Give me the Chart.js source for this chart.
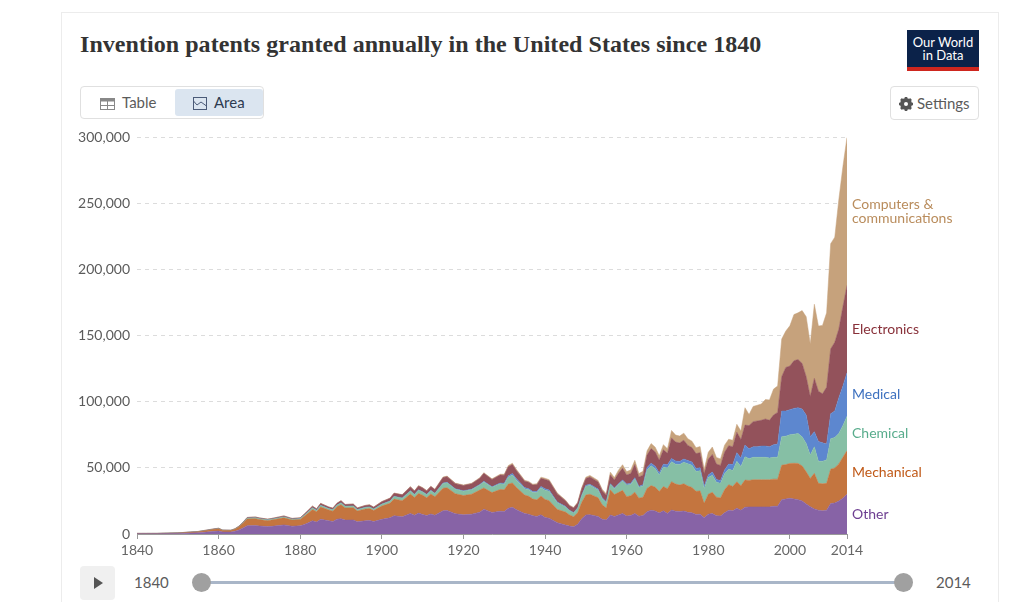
<!DOCTYPE html>
<html>
<head>
<meta charset="utf-8">
<script src="https://cdn.jsdelivr.net/npm/chart.js@4.4.1/dist/chart.umd.min.js"></script>
<style>
  body { margin: 0; background: #fff; font-family: Lato, sans-serif; width: 1032px; height: 602px; overflow: hidden; position: relative; }
  .card { position: absolute; left: 61px; top: 12px; width: 936px; height: 600px; border: 1px solid #ececec; border-bottom: none; }
  h1 { position: absolute; left: 80px; top: 31px; margin: 0; font: bold 24px 'Liberation Serif', serif; color: #333; letter-spacing: 0.05px; }
  .logo { position: absolute; left: 907px; top: 30px; width: 72px; height: 41px; background: #0b2249; color: #fff; font-size: 13px; line-height: 13px; text-align: center; box-sizing: border-box; padding-top: 6px; border-bottom: 4px solid #ce261e; }
  .tabs { position: absolute; left: 80px; top: 86px; width: 184px; height: 33px; border: 1px solid #e0e0e0; border-radius: 4px; box-sizing: border-box; }
  .tab { position: absolute; top: 2px; height: 27px; line-height: 27px; font-size: 15px; color: #5b5b5b; }
  .tab svg { vertical-align: -2px; margin-right: 7px; }
  .tab.on { background: #dbe5f0; color: #2d3b50; border-radius: 3px; }
  .settings { position: absolute; left: 890px; top: 86px; width: 89px; height: 34px; border: 1px solid #e0e0e0; border-radius: 4px; box-sizing: border-box; font-size: 15px; line-height: 32px; color: #5b5b5b; padding-left: 8px; }
  .settings svg { vertical-align: -2px; margin-right: 4px; }
  #wrap { position: absolute; left: 70px; top: 122px; width: 900px; height: 438px; }
  .play { position: absolute; left: 80px; top: 566px; width: 35px; height: 34px; background: #f0f0f0; border-radius: 4px; }
  .play:after { content: ''; position: absolute; left: 14px; top: 11px; border-left: 9px solid #555; border-top: 6px solid transparent; border-bottom: 6px solid transparent; }
  .yr { position: absolute; top: 573px; font-size: 15px; color: #5b5b5b; }
  .track { position: absolute; left: 205px; top: 581px; width: 694px; height: 3px; background: #a9b6c8; }
  .knob { position: absolute; top: 573px; width: 19px; height: 19px; border-radius: 50%; background: #a0a0a0; }
</style>
</head>
<body>
<div class="card"></div>
<h1>Invention patents granted annually in the United States since 1840</h1>
<div class="logo">Our World<br>in Data</div>
<div class="tabs">
  <div class="tab" style="left:19px;"><svg width="15" height="12" viewBox="0 0 15 12"><rect x="0.5" y="0.5" width="14" height="11" fill="none" stroke="#888"/><rect x="0.5" y="0.5" width="14" height="3" fill="#888"/><line x1="7.5" y1="0" x2="7.5" y2="12" stroke="#888"/><line x1="0" y1="7.5" x2="15" y2="7.5" stroke="#888"/></svg>Table</div>
  <div class="tab on" style="left:94px;width:88px;padding-left:18px;box-sizing:border-box;"><svg width="14" height="13" viewBox="0 0 14 13"><rect x="0.5" y="0.5" width="13" height="12" fill="none" stroke="#4a5a78"/><polyline points="0.5,4 4,8 8,5 13.5,9" fill="none" stroke="#4a5a78"/></svg>Area</div>
</div>
<div class="settings"><svg width="14" height="14" viewBox="0 0 14 14"><circle cx="7" cy="7" r="4.5" fill="none" stroke="#555" stroke-width="3"/><g stroke="#555" stroke-width="2.6"><line x1="7" y1="0" x2="7" y2="14"/><line x1="0" y1="7" x2="14" y2="7"/><line x1="2" y1="2" x2="12" y2="12"/><line x1="12" y1="2" x2="2" y2="12"/></g><circle cx="7" cy="7" r="2" fill="#fff"/></svg>Settings</div>
<div id="wrap"><canvas id="chart" width="900" height="438"></canvas></div>
<div class="play"></div>
<div class="yr" style="left:134px;">1840</div>
<div class="track"></div>
<div class="knob" style="left:192px;"></div>
<div class="knob" style="left:894px;"></div>
<div class="yr" style="left:936px;">2014</div>

<script>
// thousands of patents per year
const years = [1840,1845,1850,1855,1859,1860,1861,1863,1864,1865,1866,1867,1869,1870,1872,1873,1876,1878,1880,1881,
  1882,1883,1884,1885,1887,1888,1889,1890,1891,1893,1894,1896,1897,1898,1900,1902,1903,1905,1907,1908,
  1909,1910,1911,1912,1913,1915,1916,1918,1920,1922,1924,1925,1927,1929,1930,1931,1932,1933,1935,1936,
  1937,1938,1939,1940,1941,1943,1945,1946,1947,1948,1949,1950,1951,1953,1954,1955,1956,1957,1958,1959,
  1960,1961,1962,1963,1964,1965,1966,1967,1968,1969,1970,1971,1972,1973,1974,1975,1976,1977,1978,1979,
  1980,1981,1982,1983,1984,1985,1986,1987,1988,1989,1990,1991,1992,1993,1994,1995,1996,1997,1998,1999,
  2000,2001,2002,2003,2004,2005,2006,2007,2008,2009,2010,2011,2012,2013,2014];

const other = [0.25,0.25,0.45,1.0,2.0,2.2,1.6,1.5,2.1,3.1,4.6,6.3,6.4,6.1,5.6,5.8,6.9,5.9,6.2,7.2,
  8.5,10.0,9.0,11.2,10.0,9.5,11.2,11.6,10.5,10.6,9.3,10.0,10.2,9.4,11.1,12.2,13.8,13.0,15.6,14.2,
  15.8,14.8,13.9,15.2,14.2,17.6,17.8,15.4,14.5,15.0,16.5,18.8,16.3,17.2,17.0,19.5,20.2,18.4,15.5,15.0,
  13.8,13.3,14.5,12.5,12.0,8.6,6.8,6.0,5.5,7.3,11.5,14.4,14.6,13.3,11.1,10.6,14.4,13.3,14.4,15.6,
  13.6,14.0,15.6,13.5,14.0,16.9,18.0,17.4,15.8,17.5,15.6,18.1,17.3,17.0,17.4,16.4,16.0,14.8,15.0,12.3,
  15.0,15.5,13.8,13.6,16.0,18.0,17.5,19.5,18.0,20.2,20.5,20.5,20.5,20.5,20.5,20.5,21.0,21.0,26.0,26.5,
  27.0,26.5,26.0,25.0,22.7,20.7,19.0,18.0,17.5,18.0,23.0,23.5,25.0,27.0,30.0];

const mechanical = [0.15,0.17,0.3,0.7,1.5,1.7,1.1,1.1,1.5,2.3,3.6,5.0,5.2,4.8,4.5,4.7,5.3,4.6,4.8,6.2,
  7.4,8.6,7.8,9.2,8.1,7.8,9.4,10.5,9.2,9.3,8.1,8.9,9.0,8.3,10.0,11.0,12.6,12.2,14.6,13.4,
  14.9,14.5,13.5,15.0,14.0,17.0,17.2,15.1,14.6,15.1,16.7,16.0,15.0,16.5,16.4,18.3,18.4,16.7,14.0,13.5,
  12.6,12.6,14.2,13.6,13.2,10.0,9.8,8.4,7.6,8.7,12.5,15.1,15.5,14.1,11.0,9.0,19.0,16.5,17.0,17.4,
  14.6,15.0,16.0,13.6,13.8,17.6,18.6,18.0,16.3,18.4,18.6,21.5,20.5,20.0,20.6,19.9,19.2,17.5,17.6,10.9,
  15.1,16.0,14.0,13.7,17.5,19.3,18.5,20.0,18.5,20.6,20.0,20.5,20.5,20.5,20.5,20.5,20.5,20.5,26.0,26.0,
  26.4,27.0,27.4,26.5,24.3,21.3,26.9,20.3,20.5,20.3,26.0,26.5,28.0,31.0,33.0];

const chemical = [0.02,0.02,0.04,0.07,0.15,0.15,0.1,0.1,0.12,0.2,0.35,0.6,0.6,0.6,0.55,0.6,0.7,0.6,0.6,0.8,
  1.0,1.1,1.0,1.2,1.0,1.0,1.2,1.4,1.2,1.2,1.0,1.2,1.2,1.1,1.4,1.6,1.9,1.9,2.3,2.1,
  2.4,2.4,2.3,2.5,2.4,3.6,3.7,3.3,3.3,3.4,3.8,4.6,4.0,4.3,4.3,5.3,6.0,5.6,4.8,5.0,
  5.0,5.4,6.3,7.0,7.1,5.0,3.8,3.1,2.7,3.3,4.9,6.6,6.8,5.8,4.6,4.2,4.1,4.4,6.0,7.0,
  8.8,8.5,10.0,8.2,8.5,14.0,15.0,14.0,12.5,14.8,15.8,15.1,15.0,15.5,16.2,16.8,16.8,15.0,15.2,11.3,
  12.6,13.0,11.3,11.0,12.0,11.8,12.0,15.5,14.5,17.7,16.5,17.0,17.0,17.0,17.0,16.5,16.5,16.5,21.6,21.5,
  21.6,22.0,22.6,22.0,21.5,17.7,20.1,16.7,17.0,17.7,23.0,23.0,23.0,24.0,26.0];

const medical = [0,0,0,0.01,0.02,0.02,0.01,0.01,0.01,0.02,0.03,0.05,0.05,0.05,0.05,0.05,0.05,0.05,0.05,0.05,
  0.1,0.1,0.1,0.1,0.1,0.1,0.1,0.1,0.1,0.1,0.1,0.1,0.1,0.1,0.1,0.2,0.2,0.2,0.3,0.3,
  0.3,0.3,0.3,0.3,0.3,0.4,0.4,0.4,0.4,0.4,0.5,0.5,0.5,0.6,0.7,0.9,1.1,1.0,0.8,0.8,
  0.8,0.9,1.0,1.1,1.0,0.7,0.5,0.4,0.4,0.5,0.6,0.8,0.8,0.8,0.7,0.6,0.6,0.6,0.7,0.8,
  0.8,0.8,1.0,0.8,0.9,1.8,2.0,1.9,1.7,2.1,2.4,2.5,2.4,2.4,2.5,2.5,2.5,2.3,2.3,1.8,
  2.0,2.4,2.2,2.2,3.0,3.8,4.5,6.5,6.5,8.8,7.5,8.0,8.0,8.5,8.5,8.5,9.5,10.0,19.4,19.0,
  19.0,19.5,19.5,21.0,21.5,13.9,11.4,15.0,14.0,12.0,19.0,20.0,27.0,30.0,33.0];

const electronics = [0.05,0.05,0.08,0.15,0.3,0.3,0.2,0.2,0.25,0.35,0.4,0.55,0.6,0.6,0.55,0.6,0.7,0.6,0.6,0.8,
  1.0,1.2,1.1,1.4,1.2,1.1,1.3,1.5,1.3,1.4,1.2,1.4,1.5,1.4,1.8,2.0,2.3,2.3,2.8,2.5,
  2.9,2.8,2.6,2.9,2.7,4.1,4.3,3.9,3.9,4.1,4.6,6.0,5.4,6.0,6.1,6.9,6.8,6.2,4.8,4.8,
  4.8,5.1,6.1,7.0,6.9,6.0,4.2,3.4,3.5,3.6,4.8,5.1,5.5,5.4,5.3,4.9,6.6,6.0,7.8,8.9,
  6.9,7.4,10.0,7.0,7.3,9.4,11.0,10.8,9.5,10.9,8.6,15.5,14.3,14.0,14.2,11.4,10.9,11.2,11.4,9.4,
  11.9,13.3,11.6,11.4,13.4,13.9,13.5,15.5,14.0,15.1,17.5,19.0,19.5,19.5,20.5,20.0,22.5,24.0,26.0,33.0,
  33.0,36.0,36.5,34.5,29.0,30.4,40.3,38.0,37.0,43.0,49.0,52.0,52.0,60.0,66.0];

const computers = [0.01,0.01,0.01,0.02,0.03,0.03,0.02,0.02,0.02,0.03,0.04,0.05,0.05,0.05,0.05,0.05,0.05,0.05,0.05,0.05,
  0.1,0.1,0.1,0.1,0.1,0.1,0.1,0.2,0.1,0.1,0.1,0.1,0.1,0.1,0.2,0.2,0.2,0.2,0.3,0.3,
  0.3,0.3,0.3,0.3,0.3,0.4,0.4,0.4,0.4,0.4,0.5,0.5,0.5,0.6,0.7,0.9,1.0,0.9,0.7,0.7,
  0.7,0.8,0.9,1.0,0.9,0.7,0.6,0.5,0.4,0.6,0.8,1.0,1.1,1.1,1.1,1.1,2.1,1.9,2.4,2.7,
  2.5,2.7,3.1,2.6,2.9,3.2,3.8,3.6,3.3,3.9,3.4,5.6,5.3,5.2,5.4,5.0,4.8,4.5,4.6,3.2,
  5.2,5.6,5.0,4.9,5.3,4.9,4.9,6.0,6.4,13.1,8.4,11.5,11.9,12.3,14.7,15.4,19.6,20.0,28.5,27.5,
  30.5,35.0,35.3,40.0,45.3,39.8,56.1,49.3,51.8,56.3,79.6,79.5,98.0,106.0,112.0];

const seriesNames = [['Other'], ['Mechanical'], ['Chemical'], ['Medical'], ['Electronics'], ['Computers &', 'communications']];
const seriesValues = [other, mechanical, chemical, medical, electronics, computers];
const areaColors = ['#8763a6', '#c4753f', '#86bfa5', '#5d87cf', '#93525b', '#c6a27c'];
const labelColors = ['#6d3e91', '#c05917', '#58ac8c', '#3c70bf', '#883039', '#b98c5c'];
const tickYears = [1840, 1860, 1880, 1900, 1920, 1940, 1960, 1980, 2000, 2014];

const datasets = seriesValues.map((vals, i) => ({
  label: seriesNames[i].join(' '),
  data: years.map((yr, j) => ({ x: yr, y: vals[j] * 1000 })),
  backgroundColor: areaColors[i],
  borderColor: areaColors[i],
  borderWidth: 0.5,
  pointRadius: 0,
  tension: 0,
  fill: i === 0 ? 'origin' : '-1'
}));

// labels at the right end of each band
const endLabels = {
  id: 'endLabels',
  afterDatasetsDraw(chart) {
    const { ctx, chartArea, scales: { y } } = chart;
    const last = years.length - 1;
    let base = 0;
    ctx.save();
    ctx.font = '14px Lato';
    ctx.textBaseline = 'middle';
    seriesValues.forEach((vals, i) => {
      const top = base + vals[last] * 1000;
      const mid = y.getPixelForValue((base + top) / 2);
      const lines = seriesNames[i];
      ctx.fillStyle = labelColors[i];
      lines.forEach((t, k) => {
        ctx.fillText(t, chartArea.right + 5, mid + (k - (lines.length - 1) / 2) * 14);
      });
      base = top;
    });
    ctx.restore();
  }
};

new Chart(document.getElementById('chart'), {
  type: 'line',
  data: { datasets },
  plugins: [endLabels],
  options: {
    responsive: false,
    animation: false,
    layout: { padding: { top: 9, right: 123, bottom: 0, left: 0 } },
    plugins: { legend: { display: false }, tooltip: { enabled: false } },
    scales: {
      x: {
        type: 'linear',
        min: 1840,
        max: 2014,
        afterBuildTicks: (s) => { s.ticks = tickYears.map(v => ({ value: v })); },
        afterFit: (s) => { s.height = 26; },
        grid: { drawOnChartArea: false, drawTicks: true, tickLength: 5, color: '#999' },
        border: { color: '#999' },
        ticks: { autoSkip: false, maxRotation: 0, padding: 3, color: '#666', font: { family: 'Lato', size: 14 }, callback: (v) => String(v) }
      },
      y: {
        stacked: true,
        min: 0,
        max: 300000,
        afterFit: (s) => { s.width = 67; },
        grid: { color: '#dcdcdc', drawTicks: false },
        border: { display: false, dash: [4, 4] },
        ticks: { stepSize: 50000, padding: 7, color: '#5b5b5b', font: { family: 'Lato', size: 14 }, callback: (v) => v.toLocaleString('en-US') }
      }
    }
  }
});
</script>
</body>
</html>
